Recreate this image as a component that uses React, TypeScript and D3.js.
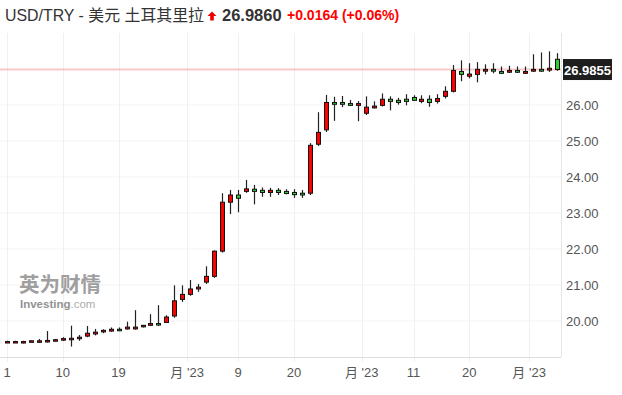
import React from "react";
import * as d3 from "d3";

// daily candles, 1 May – early Aug 2023 (weekdays only)
const opens = [
  19.40, 19.40, 19.40, 19.42, 19.42, 19.42, 19.45, 19.48, 19.48, 19.51,
  19.58, 19.64, 19.70, 19.72, 19.77, 19.78, 19.78, 19.84, 19.88, 19.93,
  19.96, 20.14, 20.60, 20.74, 20.89, 21.08, 21.24, 21.94, 23.30, 23.50,
  23.60, 23.66, 23.63, 23.57, 23.63, 23.60, 23.57, 23.55, 23.55, 24.91,
  25.31, 26.07, 26.07, 26.04, 25.99, 25.77, 25.92, 25.99, 26.16, 26.13,
  26.16, 26.21, 26.10, 26.16, 26.10, 26.24, 26.38, 26.93, 26.80, 26.85,
  26.94, 26.99, 26.93, 26.91, 26.96, 26.88, 26.94, 26.99, 26.97, 27.27,
];
const highs = [
  19.45, 19.45, 19.45, 19.46, 19.50, 19.72, 19.50, 19.55, 19.87, 19.61,
  19.86, 19.78, 19.77, 19.82, 19.82, 19.98, 20.30, 19.89, 20.19, 20.44,
  20.16, 20.99, 20.99, 21.14, 21.03, 21.52, 21.96, 23.55, 23.64, 23.64,
  23.92, 23.78, 23.71, 23.70, 23.69, 23.66, 23.66, 23.64, 24.94, 25.80,
  26.28, 26.23, 26.25, 26.14, 26.11, 26.24, 26.10, 26.32, 26.24, 26.20,
  26.30, 26.27, 26.27, 26.27, 26.30, 26.52, 27.11, 27.24, 27.16, 27.19,
  27.13, 27.16, 27.07, 27.09, 27.07, 27.07, 27.41, 27.46, 27.49, 27.44,
];
const lows = [
  19.39, 19.39, 19.38, 19.41, 19.40, 19.40, 19.43, 19.45, 19.29, 19.45,
  19.55, 19.60, 19.66, 19.70, 19.72, 19.76, 19.76, 19.82, 19.86, 19.86,
  19.95, 20.09, 20.53, 20.70, 20.81, 21.03, 21.20, 21.90, 22.97, 23.02,
  23.56, 23.24, 23.45, 23.45, 23.50, 23.52, 23.42, 23.42, 23.50, 24.86,
  25.25, 25.56, 25.94, 25.97, 25.55, 25.72, 25.90, 25.96, 25.85, 26.01,
  25.99, 26.12, 26.05, 25.95, 26.04, 26.18, 26.35, 26.66, 26.74, 26.63,
  26.85, 26.88, 26.86, 26.89, 26.89, 26.86, 26.92, 26.92, 26.92, 26.95,
];
const closes = [
  19.43, 19.43, 19.43, 19.45, 19.45, 19.46, 19.48, 19.51, 19.52, 19.55,
  19.66, 19.69, 19.74, 19.77, 19.74, 19.83, 19.83, 19.88, 19.93, 19.89,
  20.11, 20.56, 20.74, 20.89, 20.94, 21.24, 21.94, 23.30, 23.50, 23.41,
  23.67, 23.60, 23.57, 23.63, 23.57, 23.54, 23.51, 23.50, 24.88, 25.24,
  26.07, 26.02, 26.02, 25.99, 26.04, 25.94, 25.97, 26.16, 26.10, 26.07,
  26.10, 26.13, 26.16, 26.07, 26.18, 26.38, 26.96, 26.85, 26.86, 26.99,
  26.99, 26.94, 26.88, 26.96, 26.91, 26.93, 26.99, 26.94, 27.02, 26.9855,
];

const yTicks = [20, 21, 22, 23, 24, 25, 26];
const xTickIdx = [0, 7, 14, 22.6, 29, 36, 44.5, 51, 58, 65.5];
const xTickLabels = ["1", "10", "19", "月 '23", "9", "20", "月 '23", "11", "20", "月 '23"];

const lastPrice = 26.9855;
const headerPrice = "26.9860";
const headerChange = "+0.0164 (+0.06%)";

const W = 622;
const H = 395;
const plot = { left: 0, right: 561, top: 33, bottom: 357 };
const font = "'Liberation Sans', Arial, 'Noto Sans CJK SC', sans-serif";

export default function App() {
  const x = d3.scaleLinear().domain([0, opens.length - 1]).range([7, 557]);
  const y = d3.scaleLinear().domain([19, 27]).range([plot.bottom, 69]);
  const bw = 4;

  return (
    <div style={{ position: "absolute", left: 0, top: 0 }}>
      <svg width={W} height={H} style={{ display: "block", background: "#fff" }} fontFamily={font}>
        {/* header */}
        <text x={5} y={21} fontSize={15.9} fill="#333">USD/TRY - 美元 土耳其里拉</text>
        <path d="M212,11.5 L216.5,16 L213.8,16 L213.8,20.5 L210.2,20.5 L210.2,16 L207.5,16 Z" fill="#e00" />
        <text x={222} y={21} fontSize={16.5} fontWeight="bold" fill="#333">{headerPrice}</text>
        <text x={287} y={20} fontSize={14} fontWeight="bold" fill="#f00">{headerChange}</text>

        {/* grid */}
        {yTicks.map((t) => (
          <line key={"gy" + t} x1={plot.left} x2={plot.right} y1={y(t)} y2={y(t)} stroke="#f3f3f3" />
        ))}
        {xTickIdx.map((t, i) => (
          <line key={"gx" + i} x1={Math.round(x(t)) + 0.5} x2={Math.round(x(t)) + 0.5} y1={plot.top} y2={plot.bottom + 5} stroke="#f0f0f0" />
        ))}

        {/* watermark */}
        <g opacity={0.8}>
          <text x={19} y={292} fontSize={20.5} fontWeight="bold" fill="#888" fontFamily="'Noto Sans CJK SC', sans-serif" letterSpacing={0}>英为财情</text>
          <text x={20} y={308} fontSize={11.5} fontWeight="bold" fill="#777">
            Investing<tspan fontWeight="normal" fill="#999">.com</tspan>
          </text>
        </g>

        {/* axes frame */}
        <line x1={plot.left} x2={plot.right} y1={plot.bottom + 0.5} y2={plot.bottom + 0.5} stroke="#ddd" />
        <line x1={plot.right + 0.5} x2={plot.right + 0.5} y1={plot.top} y2={plot.bottom} stroke="#e6e6e6" />

        {/* last price line */}
        <line x1={plot.left} x2={plot.right} y1={y(lastPrice)} y2={y(lastPrice)} stroke="#f5b5b5" strokeWidth={2} opacity={0.7} />

        {/* candles */}
        {opens.map((o, i) => {
          const c = closes[i];
          const cx = Math.round(x(i)) + 0.5;
          const top = y(Math.max(o, c));
          const bot = y(Math.min(o, c));
          const up = c >= o;
          return (
            <g key={"c" + i}>
              <line x1={cx} x2={cx} y1={y(highs[i])} y2={y(lows[i])} stroke="#222" strokeWidth={1.2} />
              <rect x={cx - bw / 2} y={top} width={bw} height={Math.max(bot - top, 1.5)} fill={up ? "#f00" : "#3c3"} stroke="#111" strokeWidth={1} />
            </g>
          );
        })}

        {/* y labels */}
        {yTicks.map((t) => (
          <text key={"ly" + t} x={566} y={y(t) + 5} fontSize={13} fill="#555">{t.toFixed(2)}</text>
        ))}
        <rect x={563} y={y(lastPrice) - 10.5} width={49} height={21} fill="#1e1e1e" />
        <text x={587.5} y={y(lastPrice) + 5} fontSize={13} fontWeight="bold" fill="#fff" textAnchor="middle">{lastPrice.toFixed(4)}</text>

        {/* x labels */}
        {xTickIdx.map((t, i) => (
          <text key={"lx" + i} x={x(t)} y={377} fontSize={13} fill="#555" textAnchor="middle">{xTickLabels[i]}</text>
        ))}
      </svg>
    </div>
  );
}
